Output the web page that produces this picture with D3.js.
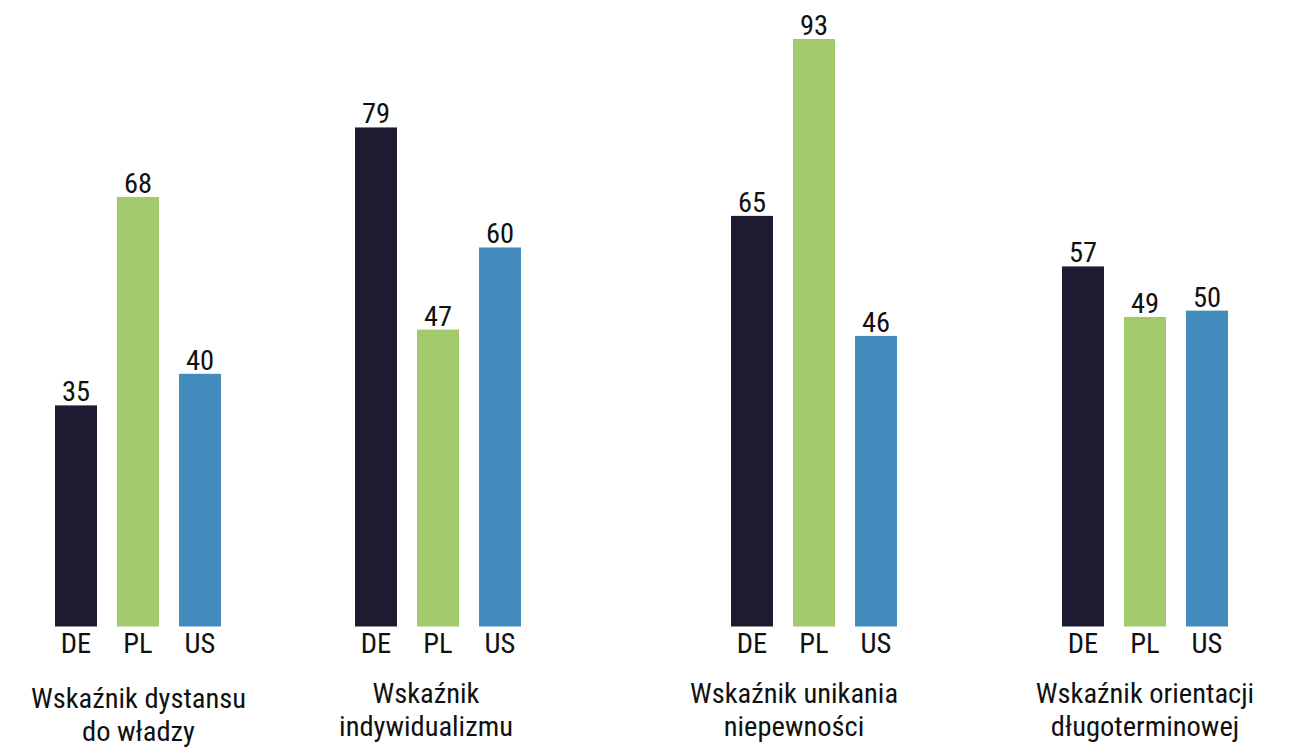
<!DOCTYPE html>
<html>
<head>
<meta charset="utf-8">
<script src="https://cdn.jsdelivr.net/npm/d3@7"></script>
<style>
  html, body { margin: 0; padding: 0; background: #fff; }
  svg text { font-family: "Roboto Condensed", Roboto, "Noto Sans", sans-serif; fill: #111; }
</style>
</head>
<body>
<div id="chart"></div>
<script>
// Data
const indices = ["power", "indiv", "uncert", "longterm"];
const indexTitles = [
  ["Wskaźnik dystansu", "do władzy"],
  ["Wskaźnik", "indywidualizmu"],
  ["Wskaźnik unikania", "niepewności"],
  ["Wskaźnik orientacji", "długoterminowej"]
];
const countries = ["DE", "PL", "US"];
const valuesDE = [35, 79, 65, 57];
const valuesPL = [68, 47, 93, 49];
const valuesUS = [40, 60, 46, 50];

const seriesValues = { DE: valuesDE, PL: valuesPL, US: valuesUS };
const data = indices.flatMap((idx, i) =>
  countries.map(c => ({ index: idx, country: c, value: seriesValues[c][i] })));

// Layout
const width = 1294;
const height = 747;
const baseY = 626.5;
const topY = 39;
const barWidth = 42;
const fontSize = 28.5;

// group centres are uneven in the original
const x0 = d3.scaleOrdinal()
    .domain(indices)
    .range([138, 438, 814, 1145]);
const titleX = d3.scaleOrdinal()
    .domain(indices)
    .range([138.5, 426, 794, 1145]);
const titleY = d3.scaleOrdinal()
    .domain(indices)
    .range([708, 703, 703, 703]);

const x1 = d3.scalePoint()
    .domain(countries)
    .range([-62, 62]);

const y = d3.scaleLinear()
    .domain([0, d3.max(data, d => d.value)])
    .range([baseY, topY]);

const color = d3.scaleOrdinal()
    .domain(countries)
    .range(["#1c1b31", "#a2c96c", "#438bbd"]);

const svg = d3.select("#chart").append("svg")
    .attr("width", width)
    .attr("height", height)
    .attr("viewBox", [0, 0, width, height]);

const groups = svg.append("g")
  .selectAll("g")
  .data(indices)
  .join("g")
    .attr("transform", d => `translate(${x0(d)},0)`);

const bars = groups.selectAll("g.bar")
  .data(d => data.filter(e => e.index === d))
  .join("g")
    .attr("class", "bar")
    .attr("transform", d => `translate(${x1(d.country)},0)`);

bars.append("rect")
    .attr("x", -barWidth / 2)
    .attr("width", barWidth)
    .attr("y", d => y(d.value))
    .attr("height", d => y(0) - y(d.value))
    .attr("fill", d => color(d.country));

// value labels
bars.append("text")
    .attr("y", d => y(d.value) - 4)
    .attr("text-anchor", "middle")
    .attr("font-size", fontSize)
    .text(d => d.value);

// country labels (acts as the x axis)
bars.append("text")
    .attr("y", baseY + 26)
    .attr("text-anchor", "middle")
    .attr("font-size", fontSize)
    .text(d => d.country);

// index titles
svg.append("g")
  .selectAll("text")
  .data(indices)
  .join("text")
    .attr("transform", d => `translate(${titleX(d)},${titleY(d)})`)
    .attr("text-anchor", "middle")
    .attr("font-size", fontSize)
  .selectAll("tspan")
  .data((d, i) => indexTitles[i])
  .join("tspan")
    .attr("x", 0)
    .attr("dy", (d, i) => i === 0 ? 0 : 33)
    .text(d => d);
</script>
</body>
</html>
